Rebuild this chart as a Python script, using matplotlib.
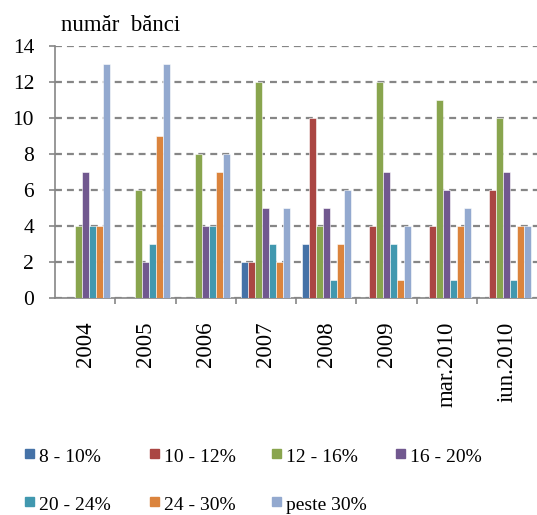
import matplotlib
matplotlib.use("Agg")
import matplotlib.pyplot as plt
from matplotlib.patches import Rectangle
import numpy as np

plt.rcParams['font.family'] = ['Liberation Serif', 'DejaVu Serif']
plt.rcParams['lines.scale_dashes'] = False

categories = ["2004", "2005", "2006", "2007", "2008", "2009", "mar.2010", "iun.2010"]
series_names = ["8 - 10%", "10 - 12%", "12 - 16%", "16 - 20%", "20 - 24%", "24 - 30%", "peste 30%"]
s_8_10 = [0, 0, 0, 2, 3, 0, 0, 0]
s_10_12 = [0, 0, 0, 2, 10, 4, 4, 6]
s_12_16 = [4, 6, 8, 12, 4, 12, 11, 10]
s_16_20 = [7, 2, 4, 5, 5, 7, 6, 7]
s_20_24 = [4, 3, 4, 3, 1, 3, 1, 1]
s_24_30 = [4, 9, 7, 2, 3, 1, 4, 4]
s_peste30 = [13, 13, 8, 5, 6, 4, 5, 4]
series = [s_8_10, s_10_12, s_12_16, s_16_20, s_20_24, s_24_30, s_peste30]
colors = ["#4572A7", "#AA4643", "#89A54E", "#71588F", "#4198AF", "#DB843D", "#93A9CF"]
yticks = [0, 2, 4, 6, 8, 10, 12, 14]

W, H = 537, 515
fig = plt.figure(figsize=(W / 100, H / 100), dpi=100)
ax = fig.add_axes([55 / W, 1 - 298 / H, (537 - 55) / W, (298 - 46) / H])

x = np.arange(len(categories))
bw = 7 / 60.25
for j, (vals, c) in enumerate(zip(series, colors)):
    ax.bar(x + (j - 3) * bw, vals, width=bw, color=c, edgecolor="white",
           linewidth=0.4, zorder=3)

ax.set_xlim(-0.5, len(categories) - 0.5)
ax.set_ylim(0, 14)
ax.set_yticks(yticks)
ax.set_yticklabels([str(v) for v in yticks], fontsize=15.5)
ax.yaxis.grid(True, color="#868686", linestyle=(0, (5, 3.6)), linewidth=1.6, zorder=0)
ax.set_axisbelow(True)

ax.set_xticks(x)
ax.set_xticklabels(categories, rotation=90, fontsize=16.5, va="top", ha="center")
ax.set_xticks(np.arange(len(categories) - 1) + 0.5, minor=True)
ax.tick_params(axis="x", which="major", length=0, pad=17)
ax.tick_params(axis="x", which="minor", length=4, width=1.2, color="#868686", direction="out")
ax.tick_params(axis="y", length=4, width=1.2, color="#868686", direction="out", pad=11)

for s in ["top", "right"]:
    ax.spines[s].set_visible(False)
for s in ["left", "bottom"]:
    ax.spines[s].set_color("#868686")
    ax.spines[s].set_linewidth(1.2)

fig.text(61 / W, 1 - 31 / H, "număr  bănci", fontsize=16.5, ha="left", va="baseline")

col_x = [25, 150, 272, 396]
row_y = [449, 497]
for i, (name, c) in enumerate(zip(series_names, colors)):
    r, cc = divmod(i, 4)
    x0 = col_x[cc]
    y0 = row_y[r]
    fig.add_artist(Rectangle((x0 / W, 1 - (y0 + 9) / H), 9 / W, 9 / H,
                             transform=fig.transFigure, color=c))
    fig.text((x0 + 14) / W, 1 - (y0 + 13) / H, name, fontsize=14,
             ha="left", va="baseline")

fig.savefig("out.png", dpi=100)
